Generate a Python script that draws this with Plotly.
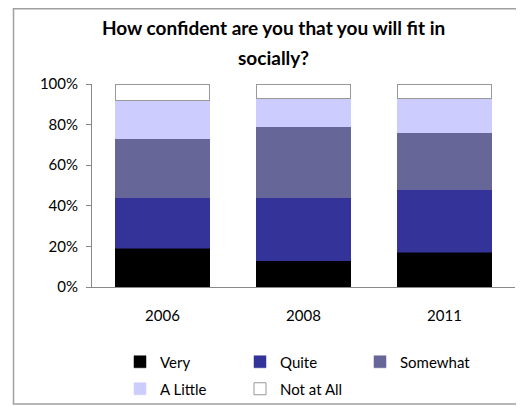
import plotly.graph_objects as go

years = ["2006", "2008", "2011"]
series_names = ["Very", "Quite", "Somewhat", "A Little", "Not at All"]
very = [19, 13, 17]
quite = [25, 31, 31]
somewhat = [29, 35, 28]
a_little = [19, 14, 17]
not_at_all = [8, 7, 7]
title_lines = ["How confident are you that you will fit in", "socially?"]

values = [very, quite, somewhat, a_little, not_at_all]
colors = ["#000000", "#333399", "#666699", "#CCCCFF", "#FFFFFF"]
line_colors = ["#000000", "#333399", "#666699", "#CCCCFF", "#999999"]
legend_ids = ["legend", "legend", "legend", "legend2", "legend2"]

FONT = "Lato"
fig = go.Figure()
for name, vals, c, lc, lg in zip(series_names, values, colors, line_colors, legend_ids):
    fig.add_trace(go.Bar(
        name=name, x=years, y=vals, legend=lg,
        marker=dict(color=c, line=dict(color=lc, width=1 if name == "Not at All" else 0.5)),
    ))

# the page body adds an 8px offset; positions below are in figure pixels
W, H = 524, 406
L, R, T, B = 84, 17, 76, 127
pw = W - L - R
ph = H - T - B

def px_x(x):
    return (x - L) / pw

def px_y(y):
    return (H - B - y) / ph

leg_common = dict(
    orientation="h", xref="container", yref="container",
    xanchor="left", yanchor="middle",
    entrywidth=75, entrywidthmode="pixels", traceorder="normal",
    bgcolor="rgba(0,0,0,0)", font=dict(family=FONT, size=15),
)

fig.update_layout(
    width=W, height=H,
    margin=dict(l=L, r=R, t=T, b=B, autoexpand=False),
    barmode="stack",
    bargap=0.33,
    plot_bgcolor="white", paper_bgcolor="white",
    font=dict(family=FONT, size=15, color="#000000"),
    showlegend=True,
    legend=dict(x=112 / W, y=1 - 354 / H, **leg_common),
    legend2=dict(x=112 / W, y=1 - 381 / H, **leg_common),
    xaxis=dict(
        showline=True, linecolor="#888888", linewidth=1, ticks="",
        ticklabelstandoff=15, tickfont=dict(size=15), automargin=False,
    ),
    yaxis=dict(
        range=[0, 100], dtick=20, ticksuffix="%", showgrid=False, zeroline=False,
        showline=True, linecolor="#888888", linewidth=1,
        ticks="outside", ticklen=5, tickcolor="#888888",
        tickfont=dict(size=15), ticklabelstandoff=5, automargin=False,
    ),
    annotations=[
        dict(text="<b>" + title_lines[0] + "</b>", x=px_x(265), y=px_y(20), xref="paper", yref="paper",
             showarrow=False, xanchor="center", yanchor="middle", font=dict(family=FONT, size=19)),
        dict(text="<b>" + title_lines[1] + "</b>", x=px_x(265), y=px_y(49), xref="paper", yref="paper",
             showarrow=False, xanchor="center", yanchor="middle", font=dict(family=FONT, size=19)),
    ],
    shapes=[
        dict(type="rect", xref="paper", yref="paper",
             x0=px_x(5.5), x1=px_x(540), y0=px_y(396), y1=px_y(0.75),
             line=dict(color="#A0A0A0", width=1.5), fillcolor="rgba(0,0,0,0)", layer="below"),
    ],
)

fig.write_html("out.html")
